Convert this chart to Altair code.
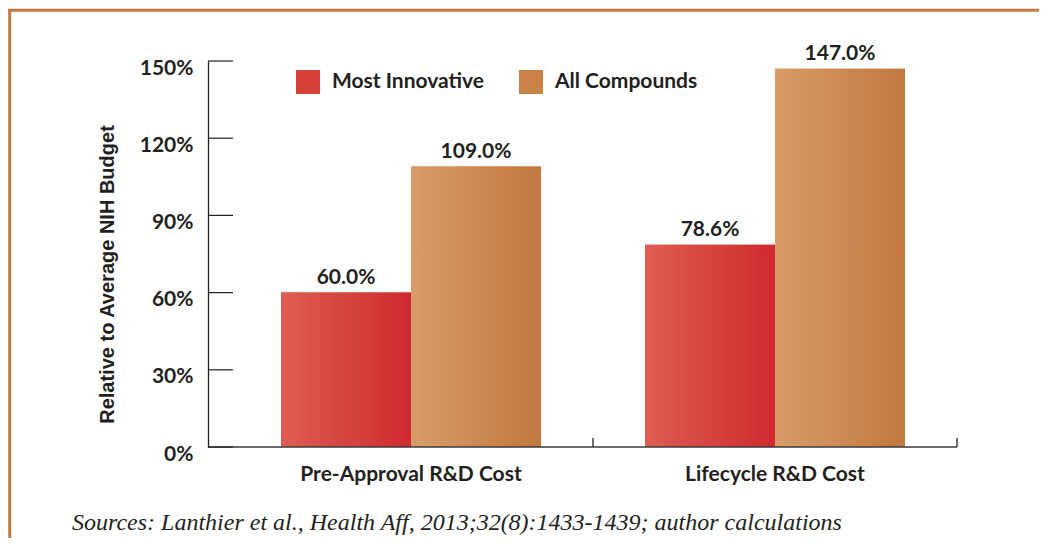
import altair as alt
import pandas as pd

categories = ["Pre-Approval R&D Cost", "Lifecycle R&D Cost"]
series = ["Most Innovative", "All Compounds"]
most_innovative = [60.0, 78.6]
all_compounds = [109.0, 147.0]
y_ticks = [0, 30, 60, 90, 120, 150]
source_note = "Sources: Lanthier et al., Health Aff, 2013;32(8):1433-1439; author calculations"
y_title = "Relative to Average NIH Budget"

rows = []
for i, c in enumerate(categories):
    rows.append({"category": c, "series": series[0], "value": most_innovative[i]})
    rows.append({"category": c, "series": series[1], "value": all_compounds[i]})
df = pd.DataFrame(rows)
df["label"] = df["value"].map(lambda v: f"{v:.1f}%")

W, H = 749, 386
FONT = "Lato"
TEXT = "#231F20"
FRAME = "#C87941"
RED = ["#DF5E52", "#CF2A2F"]
ORANGE = ["#D99C68", "#C1773E"]

xscale = alt.Scale(domain=categories, range=[21, W], paddingInner=0, paddingOuter=0)
xoff_scale = alt.Scale(domain=series, paddingInner=0, paddingOuter=0.4)
yscale = alt.Scale(domain=[0, 150], nice=False)

x_axis = alt.Axis(title=None, domain=False, ticks=False, grid=False, labelAngle=0,
                  labelFont=FONT, labelFontSize=21, labelFontWeight="bold",
                  labelColor=TEXT, labelPadding=16, labelLimit=0)
y_axis = alt.Axis(title=y_title, values=y_ticks, labelExpr="datum.value + '%'",
                  domain=True, domainColor=TEXT, domainWidth=1.3, ticks=False, grid=False,
                  labelFont=FONT, labelFontSize=21, labelFontWeight="bold", labelColor=TEXT,
                  labelPadding=15, labelOffset=7,
                  titleFont="Liberation Sans", titleFontSize=20, titleFontWeight="bold",
                  titleColor=TEXT, titlePadding=22, titleY=213)

x_enc = alt.X("category:N", scale=xscale, axis=x_axis, sort=categories)
xo_enc = alt.XOffset("series:N", scale=xoff_scale, sort=series)
y_enc = alt.Y("value:Q", scale=yscale, axis=y_axis)

solid = alt.Chart(df).mark_bar().encode(
    x=x_enc, xOffset=xo_enc, y=y_enc,
    color=alt.Color("series:N", scale=alt.Scale(domain=series, range=["#D8403A", "#C98348"]),
                    legend=alt.Legend(orient="none", legendX=88, legendY=9, direction="horizontal",
                                      title=None, symbolType="square", symbolSize=576,
                                      symbolStrokeWidth=0, symbolOpacity=1,
                                      labelFont=FONT, labelFontSize=21, labelFontWeight="bold",
                                      labelColor=TEXT, labelOffset=12, columnPadding=34,
                                      padding=0, labelLimit=0)),
)


def grad_layer(name, cols):
    return alt.Chart(df).transform_filter(alt.datum.series == name).mark_bar(
        color=alt.LinearGradient(gradient="linear",
                                 stops=[alt.GradientStop(color=cols[0], offset=0),
                                        alt.GradientStop(color=cols[1], offset=1)],
                                 x1=0, x2=1, y1=0, y2=0)
    ).encode(x=x_enc, xOffset=xo_enc, y=y_enc)


red_bars = grad_layer(series[0], RED)
orange_bars = grad_layer(series[1], ORANGE)

labels = alt.Chart(df).mark_text(dy=-5, baseline="bottom", fontSize=21, fontWeight="bold",
                                 font=FONT, color=TEXT).encode(
    x=x_enc, xOffset=xo_enc, y=y_enc, text="label:N")

ytick_df = pd.DataFrame({"value": y_ticks})
yticks = alt.Chart(ytick_df).mark_rule(color=TEXT, strokeWidth=1.2).encode(
    y=y_enc, x=alt.value(0), x2=alt.value(25))

xtick_df = pd.DataFrame({"category": categories})
xticks = alt.Chart(xtick_df).mark_rule(color=TEXT, strokeWidth=1.3).encode(
    x=alt.X("category:N", scale=xscale, axis=x_axis, sort=categories, bandPosition=1),
    y=alt.value(H - 9), y2=alt.value(H))

base_df = pd.DataFrame({"value": [0]})
baseline = alt.Chart(base_df).mark_rule(color="#3a3a3a", strokeWidth=1.5).encode(y=y_enc)

one = pd.DataFrame({"k": [0]})
frame_left = alt.Chart(one).mark_rule(color=FRAME, strokeWidth=3).encode(
    x=alt.value(-198.3), y=alt.value(-52), y2=alt.value(H + 200))
frame_top = alt.Chart(one).mark_rule(color=FRAME, strokeWidth=3).encode(
    x=alt.value(-200), x2=alt.value(W + 200), y=alt.value(-50.7))

note_df = pd.DataFrame({"note": [source_note]})
note = alt.Chart(note_df).mark_text(align="left", baseline="middle", font="Liberation Serif",
                                    fontStyle="italic", fontSize=24, color=TEXT).encode(
    x=alt.value(-136), y=alt.value(462), text="note:N")

chart = alt.layer(
    frame_left, frame_top, solid, red_bars, orange_bars, baseline, yticks, xticks, labels, note
).properties(
    width=W, height=H,
    autosize=alt.AutoSizeParams(type="none"),
    padding={"left": 200, "top": 53, "right": 82, "bottom": 91},
    background="white",
).configure_view(stroke=None)

chart.save("out.html", embed_options={"renderer": "svg", "actions": False})
